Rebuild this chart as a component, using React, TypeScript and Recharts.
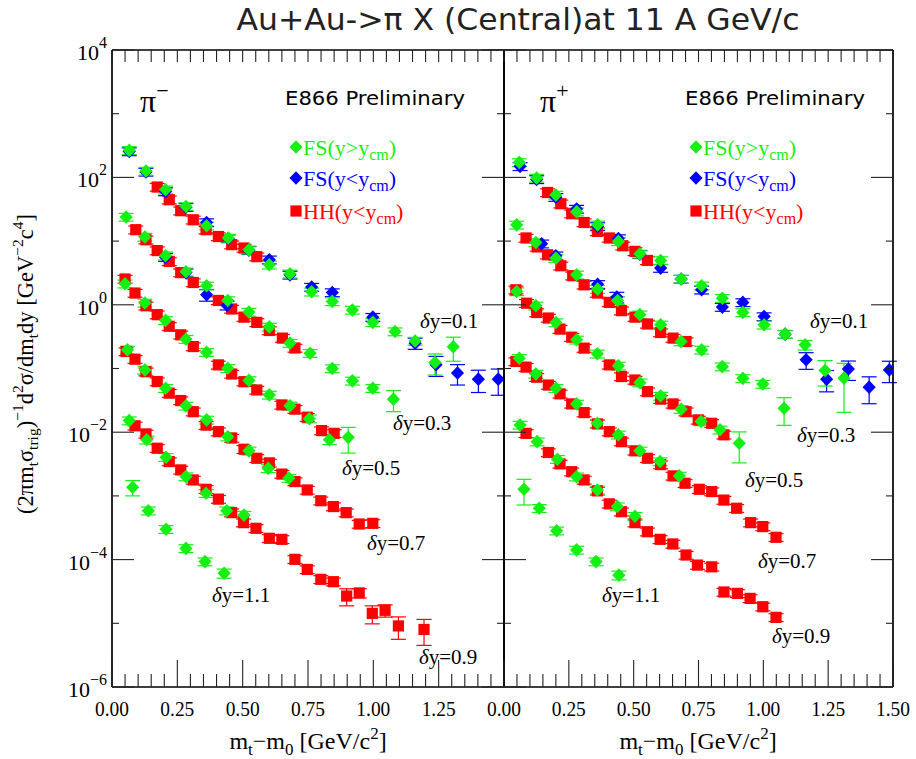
import React from 'react';
import { ScatterChart, Scatter, XAxis, YAxis, ErrorBar } from 'recharts';

// Each point: [mT - m0 (GeV/c^2), invariant yield, optional absolute error]
type Pt = number[];

// ---------- pi- ----------
const piMinusFsFwd01: Pt[] = [
  [0.066, 266], [0.13, 126], [0.205, 64], [0.283, 35], [0.362, 17.4], [0.445, 11.2], [0.524, 7.3],
  [0.602, 4.25], [0.681, 3.07], [0.764, 1.6], [0.843, 1.13], [0.92, 0.83], [0.998, 0.53], [1.083, 0.38],
  [1.16, 0.27], [1.236, 0.124, 0.045], [1.306, 0.22, 0.09],
];
const piMinusFsBwd01: Pt[] = [
  [0.066, 255], [0.13, 122], [0.205, 60], [0.283, 34], [0.362, 19.6], [0.445, 11.0], [0.524, 7.2],
  [0.602, 5.1], [0.681, 2.95], [0.764, 1.9], [0.843, 1.56], [0.998, 0.64], [1.16, 0.25, 0.05],
  [1.24, 0.115, 0.04], [1.322, 0.085, 0.03], [1.402, 0.068, 0.026], [1.478, 0.068, 0.03],
];
const piMinusHh01: Pt[] = [
  [0.173, 70.6], [0.219, 44.6], [0.263, 30], [0.311, 21.6], [0.36, 15.1], [0.407, 11.8], [0.458, 8.8],
  [0.505, 7.8], [0.554, 5.7],
];
const piMinusFsFwd03: Pt[] = [
  [0.054, 23.9], [0.126, 11.6], [0.205, 5.9], [0.283, 3.3], [0.362, 1.99], [0.443, 1.17], [0.524, 0.77],
  [0.602, 0.45], [0.681, 0.25], [0.758, 0.174], [0.843, 0.1], [0.92, 0.064], [0.998, 0.049],
  [1.077, 0.033, 0.012],
];
const piMinusFsBwd03: Pt[] = [
  [0.205, 5.6], [0.283, 3.2], [0.362, 1.44, 0.3], [0.44, 0.98, 0.15],
];
const piMinusHh03: Pt[] = [
  [0.091, 15.1], [0.13, 10.5], [0.173, 7.1], [0.219, 4.8], [0.263, 3.2], [0.311, 2.24], [0.407, 1.17],
  [0.458, 0.86], [0.505, 0.64], [0.554, 0.53], [0.602, 0.395], [0.652, 0.3], [0.7, 0.21],
];
const piMinusFsFwd05: Pt[] = [
  [0.05, 2.14], [0.126, 1.07], [0.205, 0.57], [0.283, 0.289], [0.362, 0.18], [0.443, 0.101], [0.524, 0.065],
  [0.602, 0.0385], [0.681, 0.0259], [0.755, 0.0163], [0.832, 0.0076, 0.0012], [0.904, 0.0083, 0.0036],
];
const piMinusHh05: Pt[] = [
  [0.05, 2.54], [0.088, 1.53], [0.13, 0.965], [0.173, 0.7], [0.219, 0.46], [0.263, 0.338], [0.311, 0.221],
  [0.407, 0.114], [0.458, 0.082], [0.505, 0.062], [0.554, 0.046], [0.65, 0.0268], [0.7, 0.023],
  [0.747, 0.0172], [0.802, 0.0106], [0.85, 0.0096],
];
const piMinusFsFwd07: Pt[] = [
  [0.059, 0.196], [0.126, 0.095], [0.205, 0.049], [0.283, 0.0259], [0.362, 0.0156], [0.443, 0.0085],
  [0.524, 0.0051], [0.598, 0.0027], [0.677, 0.0019],
];
const piMinusHh07: Pt[] = [
  [0.054, 0.185], [0.088, 0.14], [0.13, 0.089], [0.173, 0.0624], [0.219, 0.041], [0.263, 0.0314],
  [0.311, 0.021], [0.36, 0.0129], [0.407, 0.0102], [0.458, 0.0081], [0.505, 0.0054], [0.554, 0.0039],
  [0.602, 0.0033], [0.65, 0.0022], [0.7, 0.00168], [0.747, 0.00124], [0.799, 0.00084], [0.847, 0.00068],
  [0.896, 0.000546], [0.946, 0.000362], [0.998, 0.000371],
];
const piMinusFsFwd09: Pt[] = [
  [0.066, 0.0152], [0.133, 0.0076], [0.207, 0.00405], [0.283, 0.00201], [0.36, 0.0011], [0.439, 0.000586],
  [0.505, 0.0005],
];
const piMinusHh09: Pt[] = [
  [0.088, 0.0126], [0.13, 0.0094], [0.173, 0.0056], [0.219, 0.00346], [0.263, 0.00256], [0.311, 0.00178],
  [0.36, 0.00127], [0.407, 0.00089], [0.458, 0.000546], [0.503, 0.00038], [0.551, 0.00031],
  [0.602, 0.000216], [0.65, 0.000208], [0.7, 0.000101], [0.747, 7.0e-5], [0.799, 4.9e-5], [0.847, 4.5e-5],
  [0.898, 2.68e-5, 8e-6], [0.946, 3.0e-5, 5e-6], [0.996, 1.43e-5, 4.5e-6], [1.045, 1.6e-5, 3.5e-6],
  [1.096, 9.1e-6, 3.5e-6], [1.194, 8.0e-6, 3.5e-6],
];
const piMinusFsFwd11: Pt[] = [
  [0.079, 0.00137, 0.00037], [0.139, 0.000586], [0.207, 0.0003], [0.283, 0.00015], [0.356, 9.3e-5],
  [0.429, 6.1e-5, 1e-5],
];

// ---------- pi+ ----------
const piPlusFsFwd01: Pt[] = [
  [0.059, 172], [0.126, 98], [0.2, 53], [0.28, 29], [0.361, 18], [0.441, 9.9], [0.524, 6.3], [0.604, 4.97],
  [0.683, 2.54], [0.762, 1.99], [0.842, 1.27], [0.921, 0.76], [1.003, 0.485], [1.084, 0.346],
  [1.161, 0.235, 0.04], [1.238, 0.093, 0.04], [1.311, 0.0705, 0.05],
];
const piPlusFsBwd01: Pt[] = [
  [0.062, 149], [0.126, 93], [0.2, 49], [0.28, 31.9], [0.361, 17], [0.441, 11], [0.524, 6.2], [0.604, 3.77],
  [0.683, 2.54], [0.762, 1.72], [0.842, 0.92], [0.921, 1.09], [1.003, 0.655], [1.084, 0.346],
  [1.165, 0.137, 0.04], [1.244, 0.068, 0.025], [1.328, 0.098, 0.033], [1.408, 0.051, 0.023],
  [1.486, 0.095, 0.035],
];
const piPlusHh01: Pt[] = [
  [0.168, 58], [0.219, 38.6], [0.261, 26.9], [0.309, 19.6], [0.36, 14.2], [0.406, 11.2], [0.458, 8.45],
  [0.505, 6.9], [0.553, 4.97],
];
const piPlusFsFwd03: Pt[] = [
  [0.049, 18], [0.123, 9.5], [0.2, 5.4], [0.28, 2.96], [0.361, 1.76], [0.438, 1.17], [0.524, 0.7],
  [0.604, 0.485], [0.683, 0.265], [0.762, 0.196], [0.842, 0.107], [0.921, 0.07], [0.998, 0.057],
  [1.08, 0.0238, 0.011],
];
const piPlusFsBwd03: Pt[] = [
  [0.145, 9.1], [0.2, 5.9], [0.361, 2.1], [0.435, 1.32, 0.25],
];
const piPlusHh03: Pt[] = [
  [0.085, 11.2], [0.128, 8.1], [0.168, 6.1], [0.219, 4.1], [0.265, 2.86], [0.309, 2.06], [0.36, 1.53],
  [0.406, 1.09], [0.453, 0.81], [0.505, 0.64], [0.553, 0.5], [0.604, 0.367], [0.652, 0.3], [0.702, 0.265],
];
const piPlusFsFwd05: Pt[] = [
  [0.049, 1.62], [0.123, 0.965], [0.2, 0.527], [0.28, 0.282], [0.36, 0.17], [0.441, 0.11], [0.524, 0.06],
  [0.604, 0.037], [0.683, 0.023], [0.76, 0.0147], [0.833, 0.0109], [0.907, 0.0067, 0.0034],
];
const piPlusHh05: Pt[] = [
  [0.046, 1.72], [0.087, 1.06], [0.126, 0.757], [0.171, 0.62], [0.216, 0.415], [0.261, 0.31], [0.309, 0.209],
  [0.406, 0.114], [0.453, 0.0748], [0.505, 0.066], [0.553, 0.0434], [0.604, 0.033], [0.652, 0.0278],
  [0.702, 0.021], [0.749, 0.0156], [0.801, 0.0138], [0.848, 0.0091],
];
const piPlusFsFwd07: Pt[] = [
  [0.059, 0.145], [0.123, 0.082], [0.2, 0.049], [0.28, 0.0278], [0.36, 0.0138], [0.441, 0.0091],
  [0.524, 0.0051], [0.602, 0.00346], [0.676, 0.00206],
];
const piPlusHh07: Pt[] = [
  [0.046, 0.129], [0.085, 0.105], [0.126, 0.073], [0.171, 0.055], [0.216, 0.04], [0.261, 0.0278],
  [0.309, 0.0203], [0.36, 0.0135], [0.406, 0.0102], [0.453, 0.0071], [0.505, 0.0051], [0.553, 0.0039],
  [0.604, 0.0031], [0.652, 0.00206], [0.698, 0.00158], [0.753, 0.00127], [0.801, 0.00117], [0.848, 0.00086],
  [0.897, 0.00064], [0.951, 0.00038], [0.998, 0.00033], [1.049, 0.000224],
];
const piPlusFsFwd09: Pt[] = [
  [0.062, 0.013], [0.128, 0.0071], [0.206, 0.00377], [0.28, 0.002], [0.36, 0.00124], [0.437, 0.00068],
  [0.505, 0.00048],
];
const piPlusHh09: Pt[] = [
  [0.085, 0.0096], [0.171, 0.0048], [0.216, 0.00318], [0.261, 0.0024], [0.309, 0.00178], [0.36, 0.0012],
  [0.406, 0.00075], [0.453, 0.000565], [0.505, 0.00038], [0.553, 0.000274], [0.602, 0.000208],
  [0.651, 0.000176], [0.702, 0.000118], [0.746, 8.2e-5], [0.801, 7.7e-5], [0.848, 3.1e-5], [0.9, 2.95e-5],
  [0.949, 2.46e-5], [0.998, 1.82e-5], [1.049, 1.24e-5],
];
const piPlusFsFwd11: Pt[] = [
  [0.077, 0.00127, 0.00055], [0.136, 0.00064], [0.203, 0.000284], [0.28, 0.000142], [0.355, 9.3e-5],
  [0.443, 5.7e-5, 9e-6],
];

// Typical statistical uncertainty where no separate error is listed
const REL_ERR = 0.14;

// Axis ticks and labels
const X_TICKS = [
  0, 0.05, 0.1, 0.15, 0.2, 0.25, 0.3, 0.35, 0.4, 0.45, 0.5, 0.55, 0.6, 0.65, 0.7, 0.75, 0.8, 0.85, 0.9, 0.95,
  1, 1.05, 1.1, 1.15, 1.2, 1.25, 1.3, 1.35, 1.4, 1.45, 1.5,
];
const X_LABELS_MINUS = ['0.00', '0.25', '0.50', '0.75', '1.00', '1.25'];
const X_LABELS_PLUS = ['0.00', '0.25', '0.50', '0.75', '1.00', '1.25', '1.50'];
const Y_EXPONENTS = [-6, -5, -4, -3, -2, -1, 0, 1, 2, 3, 4];
const Y_TICKS = Y_EXPONENTS.map((e) => Math.pow(10, e));

const DY_LABELS_MINUS = ['0.1', '0.3', '0.5', '0.7', '0.9', '1.1'];
const DY_LABELS_PLUS = ['0.1', '0.3', '0.5', '0.7', '0.9', '1.1'];

const GREEN = '#14f014';
const BLUE = '#0000ff';
const RED = '#ff0000';
const SERIF = "'Liberation Serif', 'DejaVu Serif', serif";
const NARROW = "'Liberation Sans Narrow', 'DejaVu Sans Condensed', 'Liberation Sans', sans-serif";
const TICK_STROKE = '#222';

// Plot frame size shared by both panels
const PLOT_TOP = 50;
const PLOT_BOTTOM = 687;

type Kind = 'fwd' | 'bwd' | 'hh';
const KIND_COLOR: Record<Kind, string> = { fwd: GREEN, bwd: BLUE, hh: RED };

const rows = (pts: Pt[]) => pts.map(([x, y, e]) => ({ x, y, err: e ?? y * REL_ERR }));

const Diamond = ({ cx, cy, fill }: any) =>
  cx == null || cy == null ? null : (
    <polygon points={`${cx},${cy - 6.8} ${cx + 6.6},${cy} ${cx},${cy + 6.8} ${cx - 6.6},${cy}`} fill={fill} />
  );
const Square = ({ cx, cy, fill }: any) =>
  cx == null || cy == null ? null : <rect x={cx - 5.6} y={cy - 5.6} width={11.2} height={11.2} fill={fill} />;

const isMajorX = (v: number) => Math.abs(v * 4 - Math.round(v * 4)) < 1e-6;

// Bottom ticks also mirror a short tick on the top frame
const bottomTick = (labels: string[]) => (p: any) => {
  const v = p.payload.value;
  const major = isMajorX(v);
  const label = major ? labels[Math.round(v * 4)] : undefined;
  const top = p.y - (PLOT_BOTTOM - PLOT_TOP);
  return (
    <g>
      <line x1={p.x} x2={p.x} y1={p.y} y2={p.y - (major ? 27 : 13)} stroke={TICK_STROKE} strokeWidth={1.1} />
      <line x1={p.x} x2={p.x} y1={top} y2={top + 12} stroke={TICK_STROKE} strokeWidth={1.1} />
      {label && (
        <text
          x={p.x}
          y={p.y + 29}
          textAnchor="middle"
          fontFamily={SERIF}
          fontSize={22}
          textLength={34}
          lengthAdjust="spacingAndGlyphs"
          fill="#000"
        >
          {label}
        </text>
      )}
    </g>
  );
};

const expOf = (v: number) => Math.round(Math.log10(v));
const fmtExp = (e: number) => (e < 0 ? `\u2212${-e}` : `${e}`);

// Left ticks also mirror a tick pointing inwards from the right frame
const leftTick = (labelled: boolean, plotWidth: number) => (p: any) => {
  const e = expOf(p.payload.value);
  const major = e % 2 === 0;
  const len = major ? 22 : 7;
  const right = p.x + plotWidth;
  return (
    <g>
      <line x1={p.x} x2={p.x + len} y1={p.y} y2={p.y} stroke={TICK_STROKE} strokeWidth={1.1} />
      <line x1={right} x2={right - len} y1={p.y} y2={p.y} stroke={TICK_STROKE} strokeWidth={1.1} />
      {labelled && major && (
        <text x={p.x - 5} y={p.y + 10} textAnchor="end" fontFamily={SERIF} fontSize={22} fill="#000">
          10
          <tspan dy={-12} fontSize={16}>
            {fmtExp(e)}
          </tspan>
        </text>
      )}
    </g>
  );
};

const frame = { stroke: '#000', strokeWidth: 1.7 };

type SeriesDef = { data: Pt[]; kind: Kind };

type PanelProps = {
  left: number;
  width: number;
  marginLeft: number;
  marginRight: number;
  yAxisWidth: number;
  plotWidth: number;
  yLabelled: boolean;
  xLabels: string[];
  series: SeriesDef[];
};

function Panel({ left, width, marginLeft, marginRight, yAxisWidth, plotWidth, yLabelled, xLabels, series }: PanelProps) {
  return (
    <div style={{ position: 'absolute', left, top: 0 }}>
      <ScatterChart
        width={width}
        height={759}
        margin={{ top: PLOT_TOP - 1, right: marginRight, bottom: 0, left: marginLeft }}
      >
        <XAxis
          xAxisId="b"
          type="number"
          dataKey="x"
          domain={[0, 1.5]}
          ticks={X_TICKS}
          interval={0}
          height={759 - PLOT_BOTTOM}
          tickSize={0}
          tickMargin={0}
          tickLine={false}
          axisLine={frame}
          allowDataOverflow
          tick={bottomTick(xLabels)}
        />
        <XAxis
          xAxisId="t"
          orientation="top"
          type="number"
          domain={[0, 1.5]}
          height={1}
          tick={false}
          tickLine={false}
          axisLine={frame}
          allowDataOverflow
        />
        <YAxis
          yAxisId="l"
          type="number"
          dataKey="y"
          scale="log"
          domain={[1e-6, 1e4]}
          ticks={Y_TICKS}
          interval={0}
          width={yAxisWidth}
          tickSize={0}
          tickMargin={0}
          tickLine={false}
          axisLine={frame}
          allowDataOverflow
          tick={leftTick(yLabelled, plotWidth)}
        />
        <YAxis
          yAxisId="r"
          orientation="right"
          type="number"
          scale="log"
          domain={[1e-6, 1e4]}
          width={1}
          tick={false}
          tickLine={false}
          axisLine={frame}
          allowDataOverflow
        />
        {series.map((s, i) => {
          const color = KIND_COLOR[s.kind];
          return (
            <Scatter
              key={i}
              xAxisId="b"
              yAxisId="l"
              data={rows(s.data)}
              fill={color}
              isAnimationActive={false}
              shape={(props: any) =>
                s.kind === 'hh' ? <Square {...props} fill={color} /> : <Diamond {...props} fill={color} />
              }
            >
              <ErrorBar dataKey="err" direction="y" width={7.5} stroke={color} strokeWidth={1.2} />
            </Scatter>
          );
        })}
      </ScatterChart>
    </div>
  );
}

const minusSeries: SeriesDef[] = [
  { data: piMinusHh01, kind: 'hh' }, { data: piMinusHh03, kind: 'hh' }, { data: piMinusHh05, kind: 'hh' },
  { data: piMinusHh07, kind: 'hh' }, { data: piMinusHh09, kind: 'hh' },
  { data: piMinusFsBwd01, kind: 'bwd' }, { data: piMinusFsBwd03, kind: 'bwd' },
  { data: piMinusFsFwd01, kind: 'fwd' }, { data: piMinusFsFwd03, kind: 'fwd' }, { data: piMinusFsFwd05, kind: 'fwd' },
  { data: piMinusFsFwd07, kind: 'fwd' }, { data: piMinusFsFwd09, kind: 'fwd' }, { data: piMinusFsFwd11, kind: 'fwd' },
];
const plusSeries: SeriesDef[] = [
  { data: piPlusHh01, kind: 'hh' }, { data: piPlusHh03, kind: 'hh' }, { data: piPlusHh05, kind: 'hh' },
  { data: piPlusHh07, kind: 'hh' }, { data: piPlusHh09, kind: 'hh' },
  { data: piPlusFsBwd01, kind: 'bwd' }, { data: piPlusFsBwd03, kind: 'bwd' },
  { data: piPlusFsFwd01, kind: 'fwd' }, { data: piPlusFsFwd03, kind: 'fwd' }, { data: piPlusFsFwd05, kind: 'fwd' },
  { data: piPlusFsFwd07, kind: 'fwd' }, { data: piPlusFsFwd09, kind: 'fwd' }, { data: piPlusFsFwd11, kind: 'fwd' },
];

// Annotation placement for each panel (pixel layout)
const DY_POS_MINUS: [number, number][] = [[420, 328], [393, 430], [342, 475], [367, 550], [419, 664], [212, 602]];
const DY_POS_PLUS: [number, number][] = [[810, 328], [797, 442], [745, 487], [758, 568], [772, 643], [602, 602]];

function DyLabel({ x, y, value }: { x: number; y: number; value: string }) {
  return (
    <text x={x} y={y} fontFamily={SERIF} fontSize={21} fill="#000">
      <tspan fontStyle="italic">δ</tspan>y=
      {value}
    </text>
  );
}

function LegendRow({ x, y, kind, text }: { x: number; y: number; kind: Kind; text: string }) {
  const color = KIND_COLOR[kind];
  return (
    <g>
      {kind === 'hh' ? <Square cx={x} cy={y} fill={color} /> : <Diamond cx={x} cy={y} fill={color} />}
      <text x={x + 7} y={y + 8} fontFamily={SERIF} fontSize={22} fill={color}>
        {text}(y{kind === 'fwd' ? '>' : '<'}y
        <tspan dy={5} fontSize={16}>
          cm
        </tspan>
        <tspan dy={-5}>)</tspan>
      </text>
    </g>
  );
}

function PanelNotes({ ox, sign, dyLabels, dyPos }: { ox: number; sign: string; dyLabels: string[]; dyPos: [number, number][] }) {
  return (
    <g>
      <text x={ox + 140} y={112} fontFamily={SERIF} fontSize={32} fill="#000">
        π
        <tspan dy={-14} fontSize={22}>
          {sign}
        </tspan>
      </text>
      <text x={ox + 285} y={105} fontFamily={NARROW} fontSize={19} textLength={180} lengthAdjust="spacingAndGlyphs" fill="#000">
        E866 Preliminary
      </text>
      <LegendRow x={ox + 296} y={147} kind="fwd" text="FS" />
      <LegendRow x={ox + 296} y={178} kind="bwd" text="FS" />
      <LegendRow x={ox + 296} y={211} kind="hh" text="HH" />
      {dyLabels.map((v, i) => (
        <DyLabel key={i} x={dyPos[i][0]} y={dyPos[i][1]} value={v} />
      ))}
    </g>
  );
}

function XTitle({ cx }: { cx: number }) {
  return (
    <text x={cx} y={749} textAnchor="middle" fontFamily={SERIF} fontSize={24} fill="#000">
      m<tspan dy={6} fontSize={17}>t</tspan>
      <tspan dy={-6}>−m</tspan>
      <tspan dy={6} fontSize={17}>0</tspan>
      <tspan dy={-6}> [GeV/c</tspan>
      <tspan dy={-10} fontSize={17}>2</tspan>
      <tspan dy={10}>]</tspan>
    </text>
  );
}

export default function App() {
  return (
    <div style={{ position: 'absolute', left: 0, top: 0, width: 916, height: 759, background: '#fff', overflow: 'hidden' }}>
      <Panel
        left={0}
        width={505}
        marginLeft={0}
        marginRight={0}
        yAxisWidth={112}
        plotWidth={392}
        yLabelled
        xLabels={X_LABELS_MINUS}
        series={minusSeries}
      />
      <Panel
        left={440}
        width={476}
        marginLeft={63}
        marginRight={22}
        yAxisWidth={1}
        plotWidth={389}
        yLabelled={false}
        xLabels={X_LABELS_PLUS}
        series={plusSeries}
      />
      <svg width={916} height={759} style={{ position: 'absolute', left: 0, top: 0, pointerEvents: 'none' }}>
        <text
          x={518}
          y={30}
          textAnchor="middle"
          fontFamily={NARROW}
          fontSize={30}
          textLength={563}
          lengthAdjust="spacingAndGlyphs"
          fill="#222"
        >
          Au+Au-&gt;π X (Central)at 11 A GeV/c
        </text>
        <text transform="translate(33,364) rotate(-90)" textAnchor="middle" fontFamily={SERIF} fontSize={22.5} fill="#000">
          (2πm<tspan dy={5} fontSize={15.5}>t</tspan>
          <tspan dy={-5}>σ</tspan>
          <tspan dy={5} fontSize={15.5}>trig</tspan>
          <tspan dy={-5}>)</tspan>
          <tspan dy={-10} fontSize={15.5}>−1</tspan>
          <tspan dy={10}>d</tspan>
          <tspan dy={-10} fontSize={15.5}>2</tspan>
          <tspan dy={10}>σ/dm</tspan>
          <tspan dy={5} fontSize={15.5}>t</tspan>
          <tspan dy={-5}>dy [GeV</tspan>
          <tspan dy={-10} fontSize={15.5}>−2</tspan>
          <tspan dy={10}>c</tspan>
          <tspan dy={-10} fontSize={15.5}>4</tspan>
          <tspan dy={10}>]</tspan>
        </text>
        <XTitle cx={308} />
        <XTitle cx={698} />
        <PanelNotes ox={0} sign="−" dyLabels={DY_LABELS_MINUS} dyPos={DY_POS_MINUS} />
        <PanelNotes ox={400} sign="+" dyLabels={DY_LABELS_PLUS} dyPos={DY_POS_PLUS} />
      </svg>
    </div>
  );
}
